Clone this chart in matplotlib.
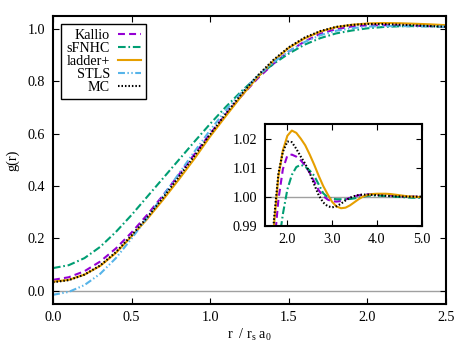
import matplotlib
matplotlib.use("Agg")
import matplotlib.pyplot as plt
import numpy as np

plt.rcParams['font.family'] = ['Liberation Serif', 'DejaVu Serif']
plt.rcParams['mathtext.fontset'] = 'custom'
plt.rcParams['mathtext.rm'] = 'Liberation Serif'
plt.rcParams['mathtext.it'] = 'Liberation Serif:italic'
plt.rcParams['lines.scale_dashes'] = False

# r / (r_s a_0), sampled every 0.1 from 0 to 5
r = np.arange(51) / 10
r_stls = r[:26]

kallio = [0.042, 0.052, 0.075, 0.112, 0.162, 0.223, 0.291, 0.365, 0.443, 0.522,
          0.600, 0.675, 0.745, 0.810, 0.866, 0.914, 0.952, 0.982, 0.999, 1.0095,
          1.0142, 1.0145, 1.0138, 1.0125, 1.0107, 1.0082, 1.0052, 1.0022, 1.0002, 0.9990,
          0.9984, 0.9983, 0.9985, 0.9990, 0.9996, 1.0001, 1.0005, 1.0007, 1.0008, 1.0008,
          1.0007, 1.0006, 1.0005, 1.0004, 1.0003, 1.0002, 1.0001, 1.0001, 1.0000, 1.0000, 1.0000]
sfnhc = [0.087, 0.098, 0.125, 0.168, 0.225, 0.290, 0.360, 0.430, 0.500, 0.570,
         0.638, 0.703, 0.763, 0.818, 0.866, 0.906, 0.940, 0.965, 0.983, 0.994,
         1.0025, 1.0075, 1.0102, 1.0110, 1.0103, 1.0090, 1.0072, 1.0042, 1.0012, 0.9998,
         0.9993, 0.9991, 0.9991, 0.9991, 0.9992, 0.9994, 0.9997, 1.0000, 1.0003, 1.0004,
         1.0004, 1.0003, 1.0002, 1.0001, 1.0000, 0.9999, 0.9998, 0.9997, 0.9996, 0.9996, 0.9996]
ladder = [0.035, 0.042, 0.062, 0.095, 0.145, 0.208, 0.275, 0.348, 0.425, 0.505,
          0.590, 0.668, 0.745, 0.815, 0.877, 0.928, 0.964, 0.990, 1.007, 1.016,
          1.021, 1.0228, 1.0220, 1.0200, 1.0177, 1.0145, 1.0110, 1.0072, 1.0037, 1.0008,
          0.9982, 0.9966, 0.9960, 0.9962, 0.9970, 0.9981, 0.9992, 1.0001, 1.0006, 1.0009,
          1.0010, 1.0010, 1.0010, 1.0009, 1.0007, 1.0005, 1.0003, 1.0001, 1.0000, 0.9999, 0.9999]
stls = [-0.015, -0.004, 0.022, 0.065, 0.125, 0.200, 0.280, 0.363, 0.447, 0.532,
        0.614, 0.690, 0.758, 0.820, 0.872, 0.915, 0.950, 0.976, 0.993, 1.003,
        1.009, 1.011, 1.011, 1.0105, 1.0098, 1.0090]
mc = [0.033, 0.041, 0.062, 0.097, 0.148, 0.212, 0.281, 0.356, 0.435, 0.516,
      0.598, 0.677, 0.752, 0.821, 0.881, 0.930, 0.967, 0.992, 1.008, 1.0155,
      1.0190, 1.0188, 1.0165, 1.0138, 1.0113, 1.0082, 1.0042, 1.0005, 0.9980, 0.9967,
      0.9963, 0.9967, 0.9976, 0.9987, 0.9996, 1.0002, 1.0006, 1.0007, 1.0007, 1.0006,
      1.0005, 1.0004, 1.0003, 1.0002, 1.0001, 1.0001, 1.0000, 1.0000, 1.0000, 1.0000, 1.0000]

main_xticks = [0.0, 0.5, 1.0, 1.5, 2.0, 2.5]
main_yticks = [0.0, 0.2, 0.4, 0.6, 0.8, 1.0]
inset_xticks = [2.0, 3.0, 4.0, 5.0]
inset_yticks = [0.99, 1.00, 1.01, 1.02]

styles = {
    'Kallio': dict(color='#9400D3', dashes=(5.0, 3.0)),
    'sFNHC': dict(color='#009E73', dashes=(5.5, 2.0, 1.2, 2.0)),
    'ladder+': dict(color='#E69F00'),
    'STLS': dict(color='#56B4E9', dashes=(5.0, 1.8, 1.0, 1.8, 1.0, 1.8)),
    'MC': dict(color='black', dashes=(1.1, 1.4)),
}
LW = 1.5
FS = 10.2


def style_axes(ax, pad_x, pad_y):
    for s in ax.spines.values():
        s.set_linewidth(1.5)
    ax.tick_params(direction='in', top=True, right=True, length=4.5, width=0.8,
                   labelsize=FS)
    ax.tick_params(axis='x', pad=pad_x)
    ax.tick_params(axis='y', pad=pad_y)


fig = plt.figure(figsize=(4.69, 3.61), dpi=100)
ax = fig.add_axes([0.113, 0.158, 0.838, 0.798])

ax.axhline(0.0, color='#a0a0a0', lw=1.0, zorder=1)
ax.plot(r, kallio, lw=LW, label='Kallio', **styles['Kallio'])
ax.plot(r, sfnhc, lw=LW, label='sFNHC', **styles['sFNHC'])
ax.plot(r, ladder, lw=LW, label='ladder+', **styles['ladder+'])
ax.plot(r_stls, stls, lw=LW, label='STLS', **styles['STLS'])
ax.plot(r, mc, lw=LW, label='MC', **styles['MC'])

ax.set_xlim(0, 2.5)
ax.set_ylim(-0.05, 1.05)
ax.set_xticks(main_xticks)
ax.set_xticklabels([f'{t:.1f}' for t in main_xticks])
ax.set_yticks(main_yticks)
ax.set_yticklabels([f'{t:.1f}' for t in main_yticks])
style_axes(ax, 5, 5.5)
ax.set_xlabel(r'r  / r$_{\rm s}$ a$_0$', fontsize=FS, labelpad=2)
ax.set_ylabel('g(r)', fontsize=FS, labelpad=6)

leg = ax.legend(loc='upper left', markerfirst=False, fontsize=FS,
                handlelength=1.6, handletextpad=0.6, labelspacing=0.0,
                borderpad=0.35, borderaxespad=0.6, fancybox=False,
                framealpha=1, edgecolor='black')
leg.get_frame().set_linewidth(1.0)

# inset with the oscillations around 1
axi = fig.add_axes([0.565, 0.375, 0.334, 0.281])
axi.axhline(1.0, color='#a0a0a0', lw=1.0, zorder=1)
axi.plot(r, kallio, lw=LW, **styles['Kallio'])
axi.plot(r, sfnhc, lw=LW, **styles['sFNHC'])
axi.plot(r, ladder, lw=LW, **styles['ladder+'])
axi.plot(r, mc, lw=LW, **styles['MC'])
axi.set_xlim(1.5, 5.0)
axi.set_ylim(0.99, 1.025)
axi.set_xticks(inset_xticks)
axi.set_xticklabels([f'{t:.1f}' for t in inset_xticks])
axi.set_yticks(inset_yticks)
axi.set_yticklabels([f'{t:.2f}' for t in inset_yticks])
style_axes(axi, 5, 5.5)

fig.savefig('out.png', dpi=100)
